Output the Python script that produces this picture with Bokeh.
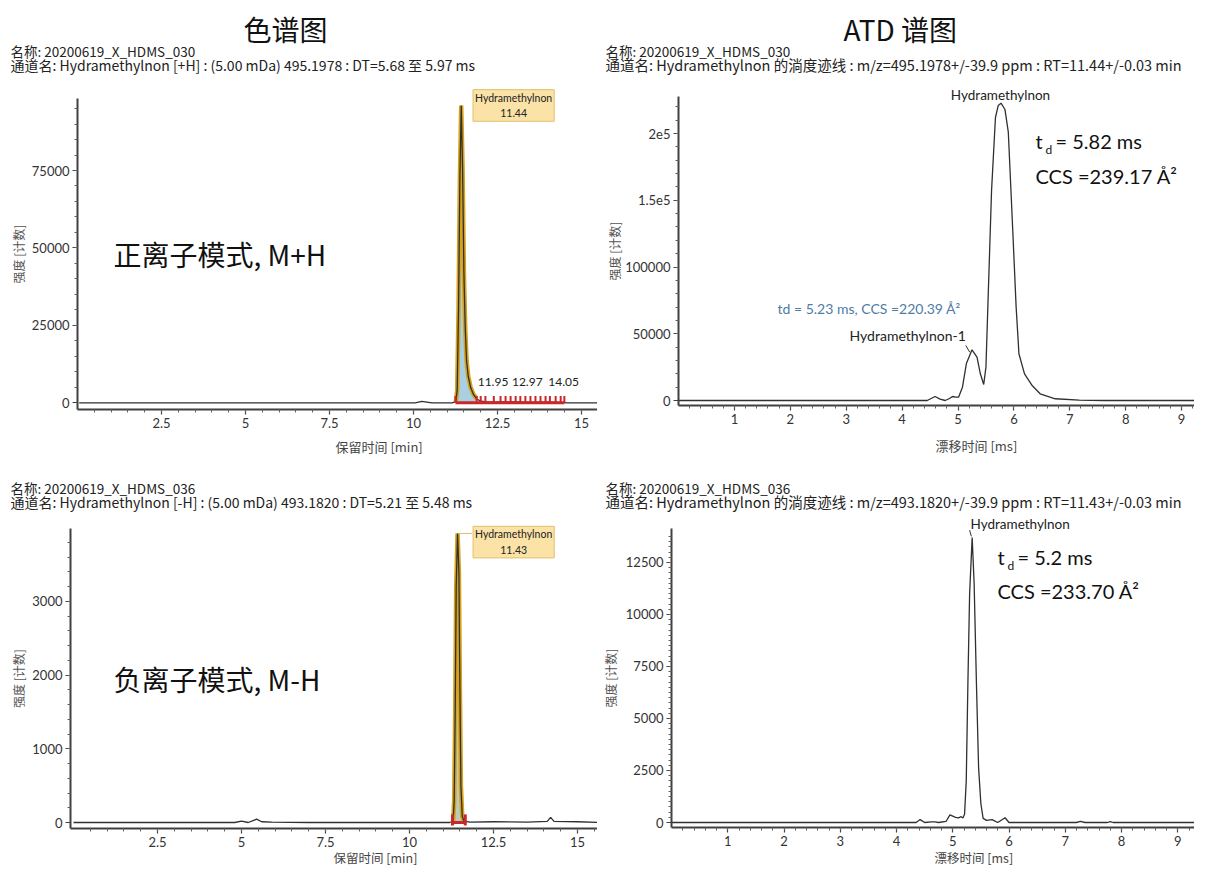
import numpy as np
from bokeh.plotting import figure
from bokeh.models import Range1d, FixedTicker, Label
from bokeh.layouts import row, column
from bokeh.embed import file_html
from bokeh.resources import INLINE

CJK = "Noto Sans CJK SC"
LAT = "Lato, Noto Sans CJK SC"

# ---------------- data ----------------
# Top-left: positive-mode chromatogram (retention time [min], intensity [counts])
pos_rt = [0.05, 1.5, 3.0, 4.5, 6.0, 7.5, 9.0, 10.05, 10.25, 10.40, 10.55, 11.15, 11.26, 11.30,
          11.34, 11.38, 11.42, 11.46, 11.50, 11.54, 11.58, 11.63, 11.70, 11.78, 11.88, 11.98,
          12.2, 12.97, 13.5, 14.05, 14.6, 15.55]
pos_int = [0, 0, 0, 0, 0, 0, 0, 0, 450, 250, 0, 0, 400, 4000,
           30000, 72000, 96000, 76000, 42000, 24000, 13500, 8500, 5000, 2800, 1300, 600,
           250, 300, 150, 250, 0, 0]
pos_peak_rt = 11.44
pos_peak_h = 96000
pos_window = [11.26, 11.92]
pos_markers = [11.25, 11.88, 12.0, 12.14, 12.39, 12.59, 12.74, 12.89, 13.04, 13.18, 13.33,
               13.48, 13.63, 13.78, 13.93, 14.06, 14.23, 14.38, 14.49]
pos_minor_rt = [11.95, 12.97, 14.05]
pos_minor_labels = ["11.95", "12.97", "14.05"]

# Bottom-left: negative-mode chromatogram
neg_rt = [0.0, 2.0, 4.0, 4.8, 5.0, 5.2, 5.45, 5.6, 5.9, 7.0, 9.0, 11.2, 11.30, 11.33, 11.36,
          11.39, 11.43, 11.47, 11.50, 11.53, 11.57, 11.62, 11.8, 12.5, 13.5, 14.1, 14.2, 14.3,
          15.0, 15.65]
neg_int = [0, 0, 0, 0, 20, 0, 45, 10, 5, 0, 0, 0, 20, 300, 1500,
           3200, 3920, 3400, 1800, 500, 80, 20, 5, 10, 5, 15, 70, 15,
           10, 0]
neg_peak_rt = 11.43
neg_peak_h = 3920
neg_window = [11.28, 11.66]

# Top-right: positive-mode arrival time distribution (drift time [ms], intensity)
pos_dt = [0.0, 4.45, 4.52, 4.59, 4.68, 4.77, 4.85, 4.90, 4.96, 5.01, 5.08, 5.15, 5.25, 5.34,
          5.40, 5.46, 5.50, 5.53, 5.60, 5.67, 5.72, 5.77, 5.84, 5.90, 5.98, 6.04, 6.09, 6.19,
          6.33, 6.47, 6.74, 7.17, 7.6, 9.34]
pos_atd = [0, 0, 1500, 3000, 1000, 0, 1500, 3000, 2500, 2500, 10000, 27700, 38000, 32500,
           20000, 12000, 25000, 65000, 157000, 212000, 221000, 222700, 218000, 201000, 127000,
           70000, 35000, 20000, 11000, 5000, 1300, 300, 0, 0]

# Bottom-right: negative-mode arrival time distribution
neg_dt = [0.0, 4.35, 4.42, 4.50, 4.62, 4.68, 4.75, 4.88, 4.95, 5.05, 5.10, 5.15, 5.18, 5.21,
          5.24, 5.27, 5.30, 5.345, 5.38, 5.42, 5.46, 5.50, 5.54, 5.60, 5.70, 5.80, 5.93, 6.00,
          7.20, 7.27, 7.35, 7.75, 7.80, 7.85, 9.4]
neg_atd = [0, 0, 140, 0, 30, 30, 0, 50, 370, 250, 220, 280, 220, 400,
           2000, 6800, 11000, 13700, 11500, 6800, 2600, 900, 200, 100, 140, 0, 230, 0,
           0, 50, 0, 0, 40, 0, 0]

AXIS = "#404040"
TRACE = "#303030"
PEAK_EDGE = "#d6a21c"
RED = "#c8282a"


class Panel:
    """A figure whose frame fills the whole canvas; axes are pinned inside it."""

    def __init__(self, fx, fy, w, h, t0_px, kx, v0_py, ky, axis_px, axis_py, xend_px, ytop_py,
                 xticks, xminor, yticks, yminor, ylabel_standoff, overrides=None):
        self.fx, self.fy, self.w, self.h = fx, fy, w, h
        self.t0, self.kx, self.v0, self.ky = t0_px, kx, v0_py, ky
        t = self.t
        v = self.v
        p = figure(width=w, height=h, x_range=Range1d(t(fx), t(fx + w)),
                   y_range=Range1d(v(fy + h), v(fy)), output_backend="svg",
                   toolbar_location=None, title=None, min_border=0, min_border_left=0,
                   min_border_right=0, min_border_top=0, min_border_bottom=0)
        p.outline_line_color = None
        p.xgrid.visible = False
        p.ygrid.visible = False
        p.background_fill_color = "white"
        p.border_fill_color = "white"
        p.xaxis.fixed_location = v(axis_py)
        p.yaxis.fixed_location = t(axis_px)
        p.xaxis.bounds = (t(axis_px), t(xend_px))
        p.yaxis.bounds = (v(axis_py), v(ytop_py))
        p.xaxis.ticker = FixedTicker(ticks=xticks, minor_ticks=xminor)
        p.yaxis.ticker = FixedTicker(ticks=yticks, minor_ticks=yminor)
        p.xaxis.major_label_overrides = {k: f"{k:g}" for k in xticks}
        yo = {k: f"{k:g}" if abs(k) < 1e5 else f"{k:.0f}" for k in yticks}
        if overrides:
            yo.update(overrides)
        p.yaxis.major_label_overrides = yo
        for ax in (p.xaxis[0], p.yaxis[0]):
            ax.axis_line_color = AXIS
            ax.axis_line_width = 2
            ax.major_tick_line_color = AXIS
            ax.major_tick_line_width = 1.2
            ax.minor_tick_line_color = "#606060"
            ax.major_tick_out = 5
            ax.major_tick_in = 0
            ax.minor_tick_out = 3
            ax.minor_tick_in = 0
            ax.major_label_text_font = LAT
            ax.major_label_text_font_size = "13px"
            ax.major_label_text_color = "#333333"
            ax.major_label_standoff = 3
        p.yaxis.axis_label = "强度 [计数]"
        p.yaxis.axis_label_text_font = CJK
        p.yaxis.axis_label_text_font_size = "12px"
        p.yaxis.axis_label_text_font_style = "normal"
        p.yaxis.axis_label_text_color = "#555555"
        p.yaxis.axis_label_standoff = ylabel_standoff
        self.p = p

    def t(self, px):
        return (px - self.t0) / self.kx

    def v(self, py):
        return (self.v0 - py) / self.ky

    def text(self, px, py, text, size, color="#222222", align="left", font=CJK):
        """Text placed at a page pixel position (frame-relative screen units)."""
        self.p.add_layout(Label(x=px - self.fx, y=(self.fy + self.h) - py,
                                x_units="screen", y_units="screen", text=text,
                                text_font=font, text_font_size=size, text_color=color,
                                text_align=align, text_baseline="middle"))


def lab(p, x, y, text, size, color="#222222", align="left", font=LAT, **kw):
    p.add_layout(Label(x=x, y=y, text=text, text_font=font, text_font_size=size,
                       text_color=color, text_align=align, text_baseline="middle", **kw))


def peak_fill(p, xs, ys, window, fill):
    xs = np.asarray(xs, float)
    ys = np.asarray(ys, float)
    m = (xs >= window[0]) & (xs <= window[1])
    p.varea(x=xs[m], y1=np.zeros(m.sum()), y2=ys[m], fill_color=fill, fill_alpha=1.0)
    p.line(xs[m], ys[m], line_color=PEAK_EDGE, line_width=4.5)


rt_minor = list(np.arange(0.5, 15.6, 0.5))
dt_minor = list(np.round(np.arange(0.2, 9.5, 0.2), 2))

W = 597
TOP_H, BOT_H = 459, 409
HDR = "13.5px"

# ---------------- top-left ----------------
TL = Panel(0, 0, W, TOP_H, 77, 33.6, 402.3, 232.3 / 75000, 77, 409, 597, 98,
           [2.5, 5, 7.5, 10, 12.5, 15], rt_minor,
           [0, 25000, 50000, 75000], list(range(5000, 96000, 5000)), 2)
tl = TL.p
TL.text(243, 28, "色谱图", "28px", color="#111111")
TL.text(10, 50, "名称: 20200619_X_HDMS_030", HDR)
TL.text(10, 64, "通道名: Hydramethylnon [+H] : (5.00 mDa) 495.1978 : DT=5.68 至 5.97 ms", "14px")
TL.text(335, 446, "保留时间 [min]", "13px", color="#444444")
TL.text(113, 253, "正离子模式, M+H", "28px", color="#111111")
peak_fill(tl, pos_rt, pos_int, pos_window, "#a9cfe2")
tl.line(pos_rt, pos_int, line_color=TRACE, line_width=1.3)
tl.segment(x0=[pos_markers[0]], y0=[0], x1=[pos_markers[-1]], y1=[0], line_color=RED, line_width=3)
tl.segment(x0=pos_markers, y0=[0] * len(pos_markers), x1=pos_markers,
           y1=[2200] * len(pos_markers), line_color=RED, line_width=2)
for r, s in zip(pos_minor_rt, pos_minor_labels):
    lab(tl, r - 0.04, 6650, s, "12px")
lab(tl, pos_peak_rt + 1.54, pos_peak_h, f"Hydramethylnon\n{pos_peak_rt:.2f}", "10.5px",
    align="center", background_fill_color="#fbe2a6", border_line_color="#e2c06a", padding=2,
    text_line_height=1.3)

# ---------------- top-right ----------------
TR = Panel(W, 0, W, TOP_H, 678, 55.9, 400, 267 / 200000, 678, 405, 1194, 96,
           [1, 2, 3, 4, 5, 6, 7, 8, 9], dt_minor,
           [0, 50000, 100000, 150000, 200000], list(range(10000, 226000, 10000)), -1,
           overrides={150000: "1.5e5", 200000: "2e5"})
tr = TR.p
TR.text(843, 28, "ATD 谱图", "28px", color="#111111")
TR.text(605, 50, "名称: 20200619_X_HDMS_030", HDR)
TR.text(605, 64, "通道名: Hydramethylnon 的淌度迹线 : m/z=495.1978+/-39.9 ppm : RT=11.44+/-0.03 min", "14.5px")
TR.text(935, 445, "漂移时间 [ms]", "13px", color="#444444")
tr.line(pos_dt, pos_atd, line_color=TRACE, line_width=1.3)
lab(tr, 5.76, 229200, "Hydramethylnon", "13.5px", align="center")
TR.text(1035, 140, "t", "20px", color="#111111", font=LAT)
TR.text(1045, 149, "d", "12px", color="#111111", font=LAT)
TR.text(1055, 140, "= 5.82 ms", "20px", color="#111111", font=LAT)
TR.text(1035, 175, "CCS =239.17 Å²", "20px", color="#111111", font=LAT)
lab(tr, 1.771, 68900, "td = 5.23 ms, CCS =220.39 Å²", "14px", color="#4f7ba6")
lab(tr, 3.06, 48700, "Hydramethylnon-1", "14px")
tr.segment(x0=[5.14], y0=[41200], x1=[5.21], y1=[36200], line_color=TRACE, line_width=1)

# ---------------- bottom-left ----------------
BL = Panel(0, TOP_H, W, BOT_H, 73, 33.6, 822, (822 - 528) / 3987, 70, 828, 597, 528,
           [2.5, 5, 7.5, 10, 12.5, 15], rt_minor,
           [0, 1000, 2000, 3000], list(range(200, 4000, 200)), 2)
bl = BL.p
BL.text(10, 487, "名称: 20200619_X_HDMS_036", HDR)
BL.text(10, 501, "通道名: Hydramethylnon [-H] : (5.00 mDa) 493.1820 : DT=5.21 至 5.48 ms", "14px")
BL.text(333, 857, "保留时间 [min]", "12.5px", color="#444444")
BL.text(113, 678, "负离子模式, M-H", "28px", color="#111111")
peak_fill(bl, neg_rt, neg_int, neg_window, "#bccbbd")
bl.line(neg_rt, neg_int, line_color=TRACE, line_width=1.3)
bl.segment(x0=[neg_window[0], neg_window[1], neg_window[0]], y0=[-40, -40, 0],
           x1=[neg_window[0], neg_window[1], neg_window[1]], y1=[110, 110, 0],
           line_color=RED, line_width=3)
bl.segment(x0=[neg_peak_rt + 0.04], y0=[neg_peak_h], x1=[neg_peak_rt + 0.43], y1=[neg_peak_h],
           line_color="#d8c070", line_width=1)
lab(bl, neg_peak_rt + 1.67, neg_peak_h * 0.97, f"Hydramethylnon\n{neg_peak_rt:.2f}", "10.5px",
    align="center", background_fill_color="#fbe2a6", border_line_color="#e2c06a", padding=2,
    text_line_height=1.3)

# ---------------- bottom-right ----------------
BR = Panel(W, TOP_H, W, BOT_H, 671, 56.25, 822, (822 - 528) / 14130, 671, 827, 1194, 528,
           [1, 2, 3, 4, 5, 6, 7, 8, 9], dt_minor,
           [0, 2500, 5000, 7500, 10000, 12500], list(range(250, 14000, 250)), 4)
br = BR.p
BR.text(605, 487, "名称: 20200619_X_HDMS_036", HDR)
BR.text(605, 501, "通道名: Hydramethylnon 的淌度迹线 : m/z=493.1820+/-39.9 ppm : RT=11.43+/-0.03 min", "14.5px")
BR.text(934, 857, "漂移时间 [ms]", "12.5px", color="#444444")
br.line(neg_dt, neg_atd, line_color=TRACE, line_width=1.3)
lab(br, 5.316, 14370, "Hydramethylnon", "13.5px")
br.segment(x0=[5.30], y0=[14050], x1=[5.33], y1=[13750], line_color=TRACE, line_width=1)
BR.text(997, 556, "t", "20px", color="#111111", font=LAT)
BR.text(1007, 565, "d", "12px", color="#111111", font=LAT)
BR.text(1017, 556, "= 5.2 ms", "20px", color="#111111", font=LAT)
BR.text(997, 590, "CCS =233.70 Å²", "20px", color="#111111", font=LAT)

layout = column(row(tl, tr), row(bl, br))
open("out.html", "w").write(file_html(layout, INLINE))
